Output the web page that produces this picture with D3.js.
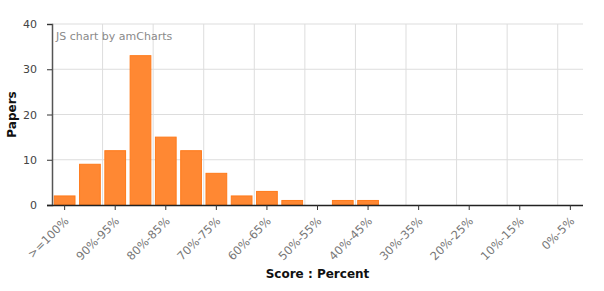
<!DOCTYPE html>
<html>
<head>
<meta charset="utf-8">
<script src="https://cdn.jsdelivr.net/npm/d3@7"></script>
<style>
	body { margin: 0; background: #fff; }
	svg { display: block; font-family: Verdana, "DejaVu Sans", sans-serif; }
</style>
</head>
<body>
<div id="chart"></div>
<script>
const categories = [">=100%", "95%-100%", "90%-95%", "85%-90%", "80%-85%", "75%-80%", "70%-75%",
	"65%-70%", "60%-65%", "55%-60%", "50%-55%", "45%-50%", "40%-45%", "35%-40%", "30%-35%",
	"25%-30%", "20%-25%", "15%-20%", "10%-15%", "5%-10%", "0%-5%"];
const papers = [2, 9, 12, 33, 15, 12, 7, 2, 3, 1, 0, 1, 1, 0, 0, 0, 0, 0, 0, 0, 0];
const yTicks = [0, 10, 20, 30, 40];

function BarChart (width, height) {
	const margin = ({top: 24, right: 21, bottom: 86, left: 52});
	const data = categories.map((c, i) => ({name: c, value: papers[i]}));

	const x = d3.scaleBand()
		.domain(categories)
		.range([margin.left, width - margin.right])
		.paddingInner(0.18)
		.paddingOuter(0.09);

	const y = d3.scaleLinear()
		.domain([0, 40])
		.range([height - margin.bottom, margin.top]);

	const svg = d3.create("svg")
		.attr("width", width)
		.attr("height", height);

	// grid
	const labelled = categories.filter((d, i) => i % 2 === 0);
	const cellStart = d => x(d) - x.step() * x.paddingInner() / 2;

	svg.append("g")
			.attr("stroke", "#ddd")
		.selectAll("line")
		.data(yTicks.filter(d => d > 0))
		.join("line")
			.attr("x1", margin.left)
			.attr("x2", width - margin.right)
			.attr("y1", d => y(d))
			.attr("y2", d => y(d));

	svg.append("g")
			.attr("stroke", "#ddd")
		.selectAll("line")
		.data(labelled.slice(1))
		.join("line")
			.attr("x1", d => cellStart(d))
			.attr("x2", d => cellStart(d))
			.attr("y1", margin.top)
			.attr("y2", height - margin.bottom);

	svg.append("text")
		.attr("x", margin.left + 4)
		.attr("y", margin.top + 16)
		.attr("font-size", 11)
		.attr("fill", "#8a8a8a")
		.text("JS chart by amCharts");

	// bars
	svg.append("g")
		.selectAll("rect")
		.data(data.filter(d => d.value > 0))
		.join("rect")
			.attr("x", d => x(d.name))
			.attr("y", d => y(d.value))
			.attr("width", x.bandwidth())
			.attr("height", d => y(0) - y(d.value))
			.attr("fill", "#ff8833")
			.attr("stroke", "#ff7a1a")
			.attr("stroke-width", 1);

	// axes
	svg.append("g")
		.attr("transform", `translate(${margin.left},0)`)
		.call(d3.axisLeft(y).tickValues(yTicks).tickSize(5).tickPadding(10))
		.call(g => g.select(".domain").attr("stroke", "#555").attr("stroke-width", 1.5))
		.call(g => g.selectAll(".tick line").attr("stroke", "#333"))
		.call(g => g.selectAll("text")
			.attr("font-size", 11)
			.attr("font-family", "Verdana, 'DejaVu Sans', sans-serif")
			.attr("fill", "#444"));

	svg.append("g")
		.attr("transform", `translate(0,${height - margin.bottom})`)
		.call(d3.axisBottom(x).tickValues(labelled).tickSize(5).tickSizeOuter(0))
		.call(g => g.select(".domain")
			.attr("d", `M${margin.left - 5},0.5H${width - margin.right}`)
			.attr("stroke", "#222").attr("stroke-width", 1.5))
		.call(g => g.selectAll(".tick line").attr("stroke", "#333"))
		.call(g => g.selectAll("text")
			.attr("font-size", 11.5)
			.attr("font-family", "Verdana, 'DejaVu Sans', sans-serif")
			.attr("fill", "#777")
			.attr("text-anchor", "end")
			.attr("x", 0)
			.attr("y", 0)
			.attr("dy", "0.35em")
			.attr("transform", "translate(2,14) rotate(-45)"));

	// axis titles
	svg.append("text")
		.attr("transform", `translate(16,${(margin.top + height - margin.bottom) / 2}) rotate(-90)`)
		.attr("text-anchor", "middle")
		.attr("font-size", 12)
		.attr("font-weight", "bold")
		.attr("fill", "#111")
		.text("Papers");

	svg.append("text")
		.attr("x", (margin.left + width - margin.right) / 2)
		.attr("y", height - 13)
		.attr("text-anchor", "middle")
		.attr("font-size", 12)
		.attr("font-weight", "bold")
		.attr("fill", "#111")
		.text("Score : Percent");

	return svg.node();
}

document.getElementById("chart").appendChild(BarChart(604, 291));
</script>
</body>
</html>
